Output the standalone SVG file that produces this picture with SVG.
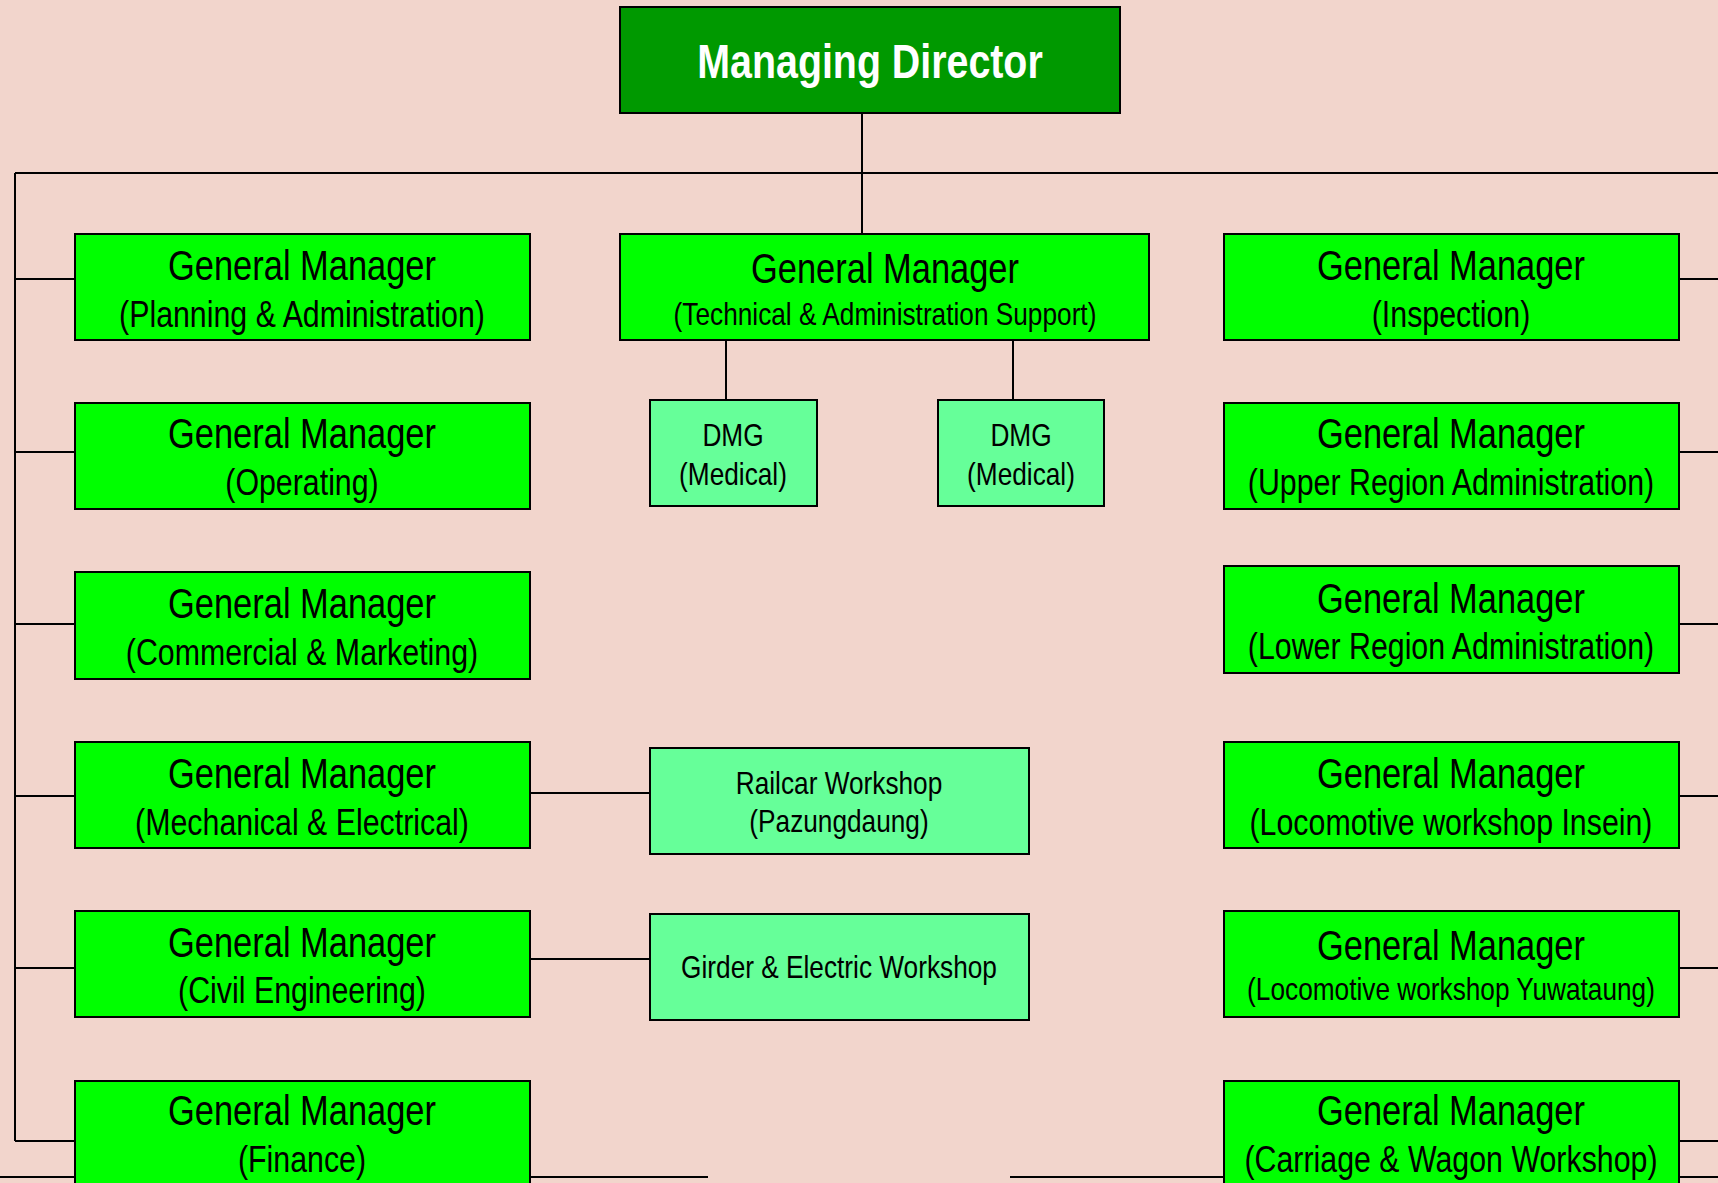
<svg xmlns="http://www.w3.org/2000/svg" width="1718" height="1183" viewBox="0 0 1718 1183">
<style>
.bg{fill:#F2D5CC}
.md{fill:#009900;stroke:#000;stroke-width:2}
.gm{fill:#00FF00;stroke:#000;stroke-width:2}
.sub{fill:#66FF99;stroke:#000;stroke-width:2}
.ln{stroke:#000;stroke-width:2;fill:none}
text{font-family:"Liberation Sans",Arial,sans-serif;text-anchor:middle;fill:#000}
.t1{font-size:42px}
.t2{font-size:37px}
.t3{font-size:32px}
.mdt{font-size:48px;font-weight:bold;fill:#fff}
</style>
<rect class="bg" x="0" y="0" width="1718" height="1183"/>
<g id="connectors">
<path class="ln" d="M862 113V234"/>
<path class="ln" d="M15 173H1718"/>
<path class="ln" d="M15 173V1141"/>
<path class="ln" d="M15 279H75M15 452H75M15 624H75M15 796H75M15 968H75M15 1141H75"/>
<path class="ln" d="M1679 279H1718M1679 452H1718M1679 624H1718M1679 796H1718M1679 968H1718M1679 1141H1718"/>
<path class="ln" d="M0 1177H708M1010 1177H1718"/>
<path class="ln" d="M726 340V400M1013 340V400"/>
<path class="ln" d="M530 793H650M530 959H650"/>
</g>
<g id="md"><rect class="md" x="620" y="7" width="500" height="106"/><g transform="translate(870 0) scale(0.82 1)"><text class="mdt" x="0" y="78">Managing Director</text></g></g>
<g id="gm-tech"><rect class="gm" x="620" y="234" width="529" height="106"/><g transform="translate(885 0) scale(0.82 1)"><text class="t1" x="0" y="283">General Manager</text><text class="t3" x="0" y="325">(Technical &amp; Administration Support)</text></g></g>
<g id="dmg1"><rect class="sub" x="650" y="400" width="167" height="106"/><g transform="translate(733 0) scale(0.82 1)"><text class="t3" x="0" y="446">DMG</text><text class="t3" x="0" y="485">(Medical)</text></g></g>
<g id="dmg2"><rect class="sub" x="938" y="400" width="166" height="106"/><g transform="translate(1021 0) scale(0.82 1)"><text class="t3" x="0" y="446">DMG</text><text class="t3" x="0" y="485">(Medical)</text></g></g>
<g id="gm-planning"><rect class="gm" x="75" y="234" width="455" height="106"/><g transform="translate(302 0) scale(0.82 1)"><text class="t1" x="0" y="280">General Manager</text><text class="t2" x="0" y="327">(Planning &amp; Administration)</text></g></g>
<g id="gm-operating"><rect class="gm" x="75" y="403" width="455" height="106"/><g transform="translate(302 0) scale(0.82 1)"><text class="t1" x="0" y="448">General Manager</text><text class="t2" x="0" y="495">(Operating)</text></g></g>
<g id="gm-commercial"><rect class="gm" x="75" y="572" width="455" height="107"/><g transform="translate(302 0) scale(0.82 1)"><text class="t1" x="0" y="618">General Manager</text><text class="t2" x="0" y="665">(Commercial &amp; Marketing)</text></g></g>
<g id="gm-mech"><rect class="gm" x="75" y="742" width="455" height="106"/><g transform="translate(302 0) scale(0.82 1)"><text class="t1" x="0" y="788">General Manager</text><text class="t2" x="0" y="835">(Mechanical &amp; Electrical)</text></g></g>
<g id="gm-civil"><rect class="gm" x="75" y="911" width="455" height="106"/><g transform="translate(302 0) scale(0.82 1)"><text class="t1" x="0" y="957">General Manager</text><text class="t2" x="0" y="1003">(Civil Engineering)</text></g></g>
<g id="gm-finance"><rect class="gm" x="75" y="1081" width="455" height="110"/><g transform="translate(302 0) scale(0.82 1)"><text class="t1" x="0" y="1125">General Manager</text><text class="t2" x="0" y="1172">(Finance)</text></g></g>
<g id="railcar"><rect class="sub" x="650" y="748" width="379" height="106"/><g transform="translate(839 0) scale(0.82 1)"><text class="t3" x="0" y="794">Railcar Workshop</text><text class="t3" x="0" y="832">(Pazungdaung)</text></g></g>
<g id="girder"><rect class="sub" x="650" y="914" width="379" height="106"/><g transform="translate(839 0) scale(0.82 1)"><text class="t3" x="0" y="978">Girder &amp; Electric Workshop</text></g></g>
<g id="gm-inspection"><rect class="gm" x="1224" y="234" width="455" height="106"/><g transform="translate(1451 0) scale(0.82 1)"><text class="t1" x="0" y="280">General Manager</text><text class="t2" x="0" y="327">(Inspection)</text></g></g>
<g id="gm-upper"><rect class="gm" x="1224" y="403" width="455" height="106"/><g transform="translate(1451 0) scale(0.82 1)"><text class="t1" x="0" y="448">General Manager</text><text class="t2" x="0" y="495">(Upper Region Administration)</text></g></g>
<g id="gm-lower"><rect class="gm" x="1224" y="566" width="455" height="107"/><g transform="translate(1451 0) scale(0.82 1)"><text class="t1" x="0" y="613">General Manager</text><text class="t2" x="0" y="659">(Lower Region Administration)</text></g></g>
<g id="gm-insein"><rect class="gm" x="1224" y="742" width="455" height="106"/><g transform="translate(1451 0) scale(0.82 1)"><text class="t1" x="0" y="788">General Manager</text><text class="t2" x="0" y="835">(Locomotive workshop Insein)</text></g></g>
<g id="gm-yuwataung"><rect class="gm" x="1224" y="911" width="455" height="106"/><g transform="translate(1451 0) scale(0.82 1)"><text class="t1" x="0" y="960">General Manager</text><text class="t3" x="0" y="1000">(Locomotive workshop Yuwataung)</text></g></g>
<g id="gm-carriage"><rect class="gm" x="1224" y="1081" width="455" height="110"/><g transform="translate(1451 0) scale(0.82 1)"><text class="t1" x="0" y="1125">General Manager</text><text class="t2" x="0" y="1172">(Carriage &amp; Wagon Workshop)</text></g></g>
</svg>
